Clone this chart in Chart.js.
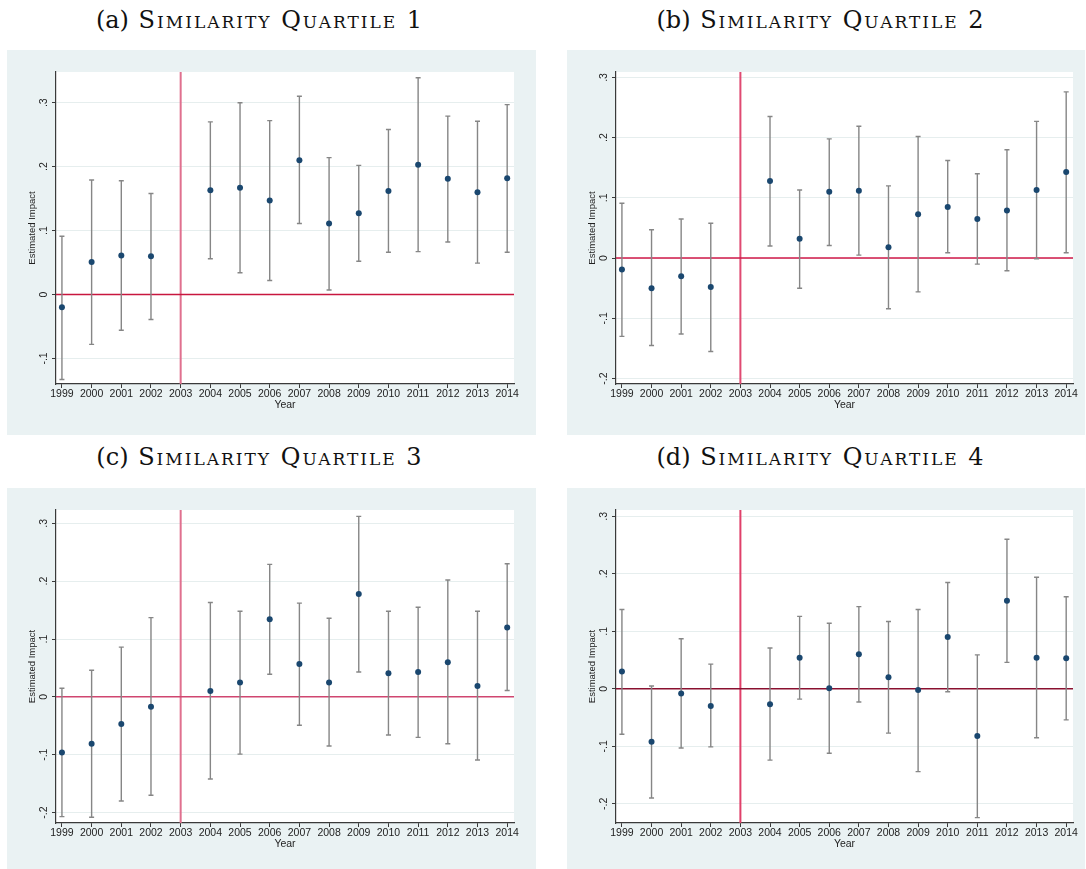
<!DOCTYPE html>
<html><head><meta charset="utf-8">
<script src="https://cdn.jsdelivr.net/npm/chart.js@4/dist/chart.umd.min.js"></script>
<style>
html,body{margin:0;padding:0;background:#fff;}
body{width:1086px;height:869px;position:relative;overflow:hidden;}
.title{position:absolute;text-align:center;font-family:"DejaVu Serif","Liberation Serif",serif;font-size:24px;letter-spacing:2px;font-variant:small-caps;color:#111;white-space:nowrap;line-height:28px;}
.title span{font-variant:normal;letter-spacing:0;}
.panel{position:absolute;background:#eaf2f3;}
.panel canvas{display:block;}
</style></head><body>

<div class="title" style="left:0px;width:520px;top:6px"><span>(a)</span> Similarity Quartile 1</div>
<div class="title" style="left:561px;width:520px;top:6px"><span>(b)</span> Similarity Quartile 2</div>
<div class="title" style="left:0px;width:520px;top:443px"><span>(c)</span> Similarity Quartile 3</div>
<div class="title" style="left:561px;width:520px;top:443px"><span>(d)</span> Similarity Quartile 4</div>

<div class="panel" style="left:7px;top:50px;width:529px;height:385px"><canvas id="c1" width="529" height="385"></canvas></div>
<div class="panel" style="left:567px;top:50px;width:518px;height:385px"><canvas id="c2" width="518" height="385"></canvas></div>
<div class="panel" style="left:7px;top:488px;width:529px;height:381px"><canvas id="c3" width="529" height="381"></canvas></div>
<div class="panel" style="left:567px;top:488px;width:518px;height:381px"><canvas id="c4" width="518" height="381"></canvas></div>

<script>
// ---------- data ----------
const years = [1999,2000,2001,2002,2004,2005,2006,2007,2008,2009,2010,2011,2012,2013,2014];
const refYear = 2003;
const refValue = 0;
const yTickValues = [-0.2,-0.1,0,0.1,0.2,0.3];

const q1Est = [-0.020,0.051,0.061,0.060,0.163,0.167,0.147,0.210,0.111,0.127,0.162,0.203,0.181,0.160,0.182];
const q1Lo  = [-0.133,-0.078,-0.056,-0.039,0.056,0.034,0.022,0.111,0.007,0.052,0.066,0.067,0.082,0.049,0.066];
const q1Hi  = [0.091,0.179,0.178,0.158,0.270,0.300,0.272,0.310,0.214,0.202,0.258,0.339,0.279,0.271,0.297];

const q2Est = [-0.019,-0.050,-0.030,-0.048,0.128,0.032,0.110,0.112,0.018,0.073,0.085,0.065,0.079,0.113,0.143];
const q2Lo  = [-0.130,-0.145,-0.126,-0.155,0.020,-0.050,0.021,0.005,-0.084,-0.056,0.009,-0.010,-0.021,-0.001,0.009];
const q2Hi  = [0.091,0.047,0.065,0.058,0.235,0.113,0.198,0.219,0.120,0.202,0.162,0.140,0.180,0.227,0.276];

const q3Est = [-0.096,-0.081,-0.047,-0.017,0.010,0.025,0.134,0.057,0.025,0.178,0.041,0.043,0.060,0.019,0.120];
const q3Lo  = [-0.207,-0.208,-0.180,-0.170,-0.142,-0.099,0.039,-0.049,-0.085,0.043,-0.066,-0.070,-0.081,-0.109,0.011];
const q3Hi  = [0.015,0.046,0.086,0.137,0.163,0.148,0.229,0.162,0.136,0.312,0.148,0.155,0.202,0.148,0.230];

const q4Est = [0.030,-0.092,-0.008,-0.030,-0.027,0.054,0.001,0.060,0.020,-0.002,0.090,-0.082,0.153,0.054,0.053];
const q4Lo  = [-0.079,-0.190,-0.103,-0.101,-0.124,-0.018,-0.112,-0.023,-0.077,-0.144,-0.005,-0.224,0.046,-0.085,-0.054];
const q4Hi  = [0.138,0.005,0.087,0.043,0.071,0.126,0.114,0.143,0.117,0.138,0.185,0.059,0.260,0.194,0.160];

// ---------- drawing ----------
const errPlugin = {
  id: 'errbars',
  beforeDatasetsDraw(chart, args, o) {
    const {ctx, chartArea: a, scales: {x, y}} = chart;
    ctx.save();
    ctx.beginPath(); ctx.rect(a.left, a.top, a.right - a.left, a.bottom - a.top); ctx.clip();
    const vx = x.getPixelForValue(refYear);
    ctx.strokeStyle = o.vColor; ctx.lineWidth = 2;
    ctx.beginPath(); ctx.moveTo(vx, a.top); ctx.lineTo(vx, a.bottom); ctx.stroke();
    const hy = y.getPixelForValue(refValue);
    ctx.strokeStyle = o.hColor; ctx.lineWidth = 1.5;
    ctx.beginPath(); ctx.moveTo(a.left, hy); ctx.lineTo(a.right, hy); ctx.stroke();
    const ds = chart.data.datasets[0];
    ctx.strokeStyle = '#868686'; ctx.lineWidth = 1.4;
    ds.data.forEach((p, i) => {
      const px = x.getPixelForValue(p.x);
      const y1 = y.getPixelForValue(ds.lo[i]);
      const y2 = y.getPixelForValue(ds.hi[i]);
      ctx.beginPath();
      ctx.moveTo(px, y1); ctx.lineTo(px, y2);
      ctx.moveTo(px - 2.5, y1); ctx.lineTo(px + 2.5, y1);
      ctx.moveTo(px - 2.5, y2); ctx.lineTo(px + 2.5, y2);
      ctx.stroke();
    });
    ctx.restore();
  }
};

const whiteArea = {
  id: 'whiteArea',
  beforeDraw(chart) {
    const {ctx, chartArea: a} = chart;
    ctx.save();
    ctx.fillStyle = '#eaf2f3';
    ctx.fillRect(0, 0, chart.width, chart.height);
    ctx.fillStyle = '#ffffff';
    ctx.fillRect(a.left, a.top, a.right - a.left, a.bottom - a.top);
    ctx.restore();
  }
};

function fmt(v) {
  const r = Math.round(v * 10) / 10;
  if (Math.abs(r) < 1e-9) return '0';
  return String(r).replace('0.', '.');
}

function makeChart(id, est, lo, hi, yMin, yMax, hColor, vColor, xHeight, rightPad) {
  const tickFont = {family: '"Liberation Sans", Arial, sans-serif', size: 10.5};
  new Chart(document.getElementById(id), {
    type: 'scatter',
    data: {
      datasets: [{
        data: years.map((yr, i) => ({x: yr, y: est[i]})),
        lo: lo, hi: hi,
        backgroundColor: '#1a476f',
        borderColor: '#1a476f',
        pointRadius: 3,
        pointBorderWidth: 0,
        showLine: false
      }]
    },
    options: {
      responsive: false,
      animation: false,
      layout: {padding: {top: 22, right: rightPad, left: 0, bottom: 0}},
      plugins: {
        legend: {display: false},
        tooltip: {enabled: false},
        errbars: {hColor: hColor, vColor: vColor}
      },
      scales: {
        x: {
          type: 'linear',
          min: 1998.8, max: 2014.23,
          afterFit: s => { s.height = xHeight; },
          border: {display: true, color: '#3a3a3a', width: 1.2},
          grid: {drawOnChartArea: false, drawTicks: true, tickColor: '#3a3a3a', tickLength: 4},
          ticks: {
            stepSize: 1, autoSkip: false, includeBounds: false,
            maxRotation: 0, minRotation: 0, padding: 0,
            color: '#222', font: tickFont,
            callback: v => String(v)
          },
          title: {display: true, text: 'Year', color: '#222', font: tickFont, padding: {top: 0, bottom: xHeight - 27}}
        },
        y: {
          type: 'linear',
          min: yMin, max: yMax,
          afterFit: s => { s.width = 49; },
          afterBuildTicks: s => { s.ticks = yTickValues.filter(v => v >= yMin && v <= yMax).map(v => ({value: v})); },
          border: {display: true, color: '#3a3a3a', width: 1.2},
          grid: {color: '#e6eeee', lineWidth: 1, drawTicks: true, tickColor: '#3a3a3a', tickLength: 4},
          ticks: {
            includeBounds: false, minRotation: 90, maxRotation: 90,
            crossAlign: 'center', padding: 1.5,
            color: '#222', font: tickFont,
            callback: v => fmt(v)
          },
          title: {display: true, text: 'Estimated Impact', color: '#222', font: {family: '"Liberation Sans", Arial, sans-serif', size: 9.5}, padding: {top: 20, bottom: 0}}
        }
      }
    },
    plugins: [whiteArea, errPlugin]
  });
}

makeChart('c1', q1Est, q1Lo, q1Hi, -0.140, 0.348, '#c8163f', '#e0708f', 51, 22);
makeChart('c2', q2Est, q2Lo, q2Hi, -0.209, 0.309, '#d01848', '#e04a72', 51, 12);
makeChart('c3', q3Est, q3Lo, q3Hi, -0.218, 0.323, '#d04670', '#e0708f', 46, 22);
makeChart('c4', q4Est, q4Lo, q4Hi, -0.2334, 0.311, '#8a1030', '#e0406a', 46, 12);
</script>
</body></html>
